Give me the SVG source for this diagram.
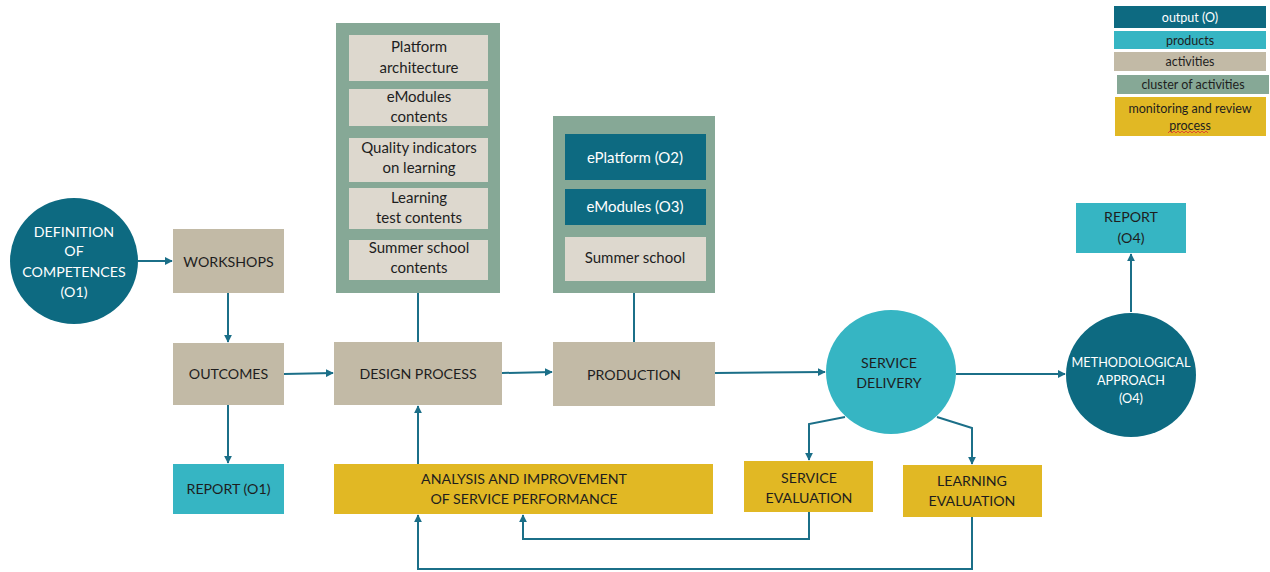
<svg xmlns="http://www.w3.org/2000/svg" width="1270" height="572" viewBox="0 0 1270 572">
<defs>
<marker id="ah" viewBox="0 0 10 10" refX="9" refY="5" markerWidth="4" markerHeight="4" orient="auto" markerUnits="strokeWidth">
<path d="M0,0 L10,5 L0,10 z" fill="#1b6f88"/>
</marker>
<style>
.t{font-family:Lato,"Liberation Sans",sans-serif;text-anchor:middle;fill:#1e1e1e}
.w{fill:#ffffff}
.cap{font-size:14.2px}
.sm{font-size:15px}
.lg{font-size:12.5px}
.out{fill:#0d6a81}
.prod{fill:#36b5c3}
.act{fill:#c2baa6}
.clu{fill:#86a896}
.inn{fill:#ddd8ce}
.mon{fill:#e1b824}
.c{fill:none;stroke:#1b6f88;stroke-width:2}
.ca{fill:none;stroke:#1b6f88;stroke-width:2;marker-end:url(#ah)}
</style>
</defs>
<rect width="1270" height="572" fill="#ffffff"/>

<g id="connectors">
<path class="ca" d="M138,261 H172"/>
<path class="ca" d="M228,293 V342"/>
<path class="ca" d="M228,405 V463"/>
<path class="ca" d="M284,374 L333,373"/>
<path class="ca" d="M502,373 L552,372"/>
<path class="ca" d="M715,373 L825,372"/>
<path class="ca" d="M956,374 L1065,374"/>
<path class="ca" d="M1131,312 V254"/>
<path class="c" d="M418,293 V342"/>
<path class="c" d="M634,293 V342"/>
<path class="ca" d="M418,464 V406"/>
<path class="ca" d="M845,417 L809,424 V460"/>
<path class="ca" d="M937,417 L972,428 V464"/>
<path class="ca" d="M809,512 V539 H523 V515"/>
<path class="ca" d="M972,517 V569 H418 V515"/>
</g>

<g id="definition">
<ellipse class="out" cx="74" cy="261" rx="64" ry="63"/>
<text class="t w cap" x="74" y="237">DEFINITION</text>
<text class="t w cap" x="74" y="256">OF</text>
<text class="t w cap" x="74" y="277">COMPETENCES</text>
<text class="t w cap" x="74" y="297">(O1)</text>
</g>

<g id="workshops">
<rect class="act" x="173" y="229" width="111" height="64"/>
<text class="t cap" x="228.5" y="267">WORKSHOPS</text>
</g>

<g id="outcomes">
<rect class="act" x="173" y="343" width="111" height="62"/>
<text class="t cap" x="228.5" y="379">OUTCOMES</text>
</g>

<g id="report-o1">
<rect class="prod" x="173" y="464" width="111" height="50"/>
<text class="t cap" x="228.5" y="494">REPORT (O1)</text>
</g>

<g id="design-cluster">
<rect class="clu" x="336" y="23" width="164" height="270"/>
<rect class="inn" x="349" y="35" width="139" height="46"/>
<text class="t sm" x="419" y="52">Platform</text>
<text class="t sm" x="419" y="73">architecture</text>
<rect class="inn" x="349" y="89" width="139" height="37"/>
<text class="t sm" x="419" y="102">eModules</text>
<text class="t sm" x="419" y="122">contents</text>
<rect class="inn" x="349" y="138" width="139" height="44"/>
<text class="t sm" x="419" y="153">Quality indicators</text>
<text class="t sm" x="419" y="173">on learning</text>
<rect class="inn" x="349" y="188" width="139" height="41"/>
<text class="t sm" x="419" y="203">Learning</text>
<text class="t sm" x="419" y="223">test contents</text>
<rect class="inn" x="349" y="240" width="139" height="40"/>
<text class="t sm" x="419" y="253">Summer school</text>
<text class="t sm" x="419" y="273">contents</text>
</g>

<g id="production-cluster">
<rect class="clu" x="553" y="116" width="162" height="177"/>
<rect class="out" x="565" y="134" width="141" height="46"/>
<text class="t w sm" x="635" y="163">ePlatform (O2)</text>
<rect class="out" x="565" y="189" width="141" height="36"/>
<text class="t w sm" x="635" y="212">eModules (O3)</text>
<rect class="inn" x="565" y="237" width="141" height="44"/>
<text class="t sm" x="635" y="263">Summer school</text>
</g>

<g id="design-process">
<rect class="act" x="334" y="342" width="168" height="63"/>
<text class="t cap" x="418" y="379">DESIGN PROCESS</text>
</g>

<g id="production">
<rect class="act" x="553" y="342" width="162" height="64"/>
<text class="t cap" x="634" y="380">PRODUCTION</text>
</g>

<g id="analysis">
<rect class="mon" x="334" y="464" width="379" height="50"/>
<text class="t cap" x="524" y="484">ANALYSIS AND IMPROVEMENT</text>
<text class="t cap" x="524" y="504">OF SERVICE PERFORMANCE</text>
</g>

<g id="service-delivery">
<ellipse class="prod" cx="891" cy="372" rx="65" ry="62"/>
<text class="t cap" x="889" y="368">SERVICE</text>
<text class="t cap" x="889" y="388">DELIVERY</text>
</g>

<g id="service-evaluation">
<rect class="mon" x="744" y="461" width="129" height="51"/>
<text class="t cap" x="809" y="483">SERVICE</text>
<text class="t cap" x="809" y="503">EVALUATION</text>
</g>

<g id="learning-evaluation">
<rect class="mon" x="903" y="465" width="139" height="52"/>
<text class="t cap" x="972" y="486">LEARNING</text>
<text class="t cap" x="972" y="506">EVALUATION</text>
</g>

<g id="methodological">
<ellipse class="out" cx="1131" cy="375" rx="65" ry="62"/>
<text class="t w" style="font-size:12.7px" x="1131" y="367">METHODOLOGICAL</text>
<text class="t w" style="font-size:12.7px" x="1131" y="385">APPROACH</text>
<text class="t w" style="font-size:12.7px" x="1131" y="403">(O4)</text>
</g>

<g id="report-o4">
<rect class="prod" x="1076" y="203" width="110" height="50"/>
<text class="t cap" x="1131" y="222">REPORT</text>
<text class="t cap" x="1131" y="243">(O4)</text>
</g>

<g id="legend">
<rect class="out" x="1114" y="6" width="152" height="22"/>
<text class="t w lg" x="1190" y="22">output (O)</text>
<rect class="prod" x="1114" y="31" width="152" height="18"/>
<text class="t lg" x="1190" y="45">products</text>
<rect class="act" x="1114" y="52" width="152" height="19"/>
<text class="t lg" x="1190" y="66">activities</text>
<rect class="clu" x="1117" y="75" width="152" height="19"/>
<text class="t lg" x="1193" y="89">cluster of activities</text>
<rect class="mon" x="1115" y="97" width="151" height="39"/>
<text class="t lg" x="1190" y="113">monitoring and review</text>
<text class="t lg" x="1190" y="130">process</text>
<path d="M1168,133 l2,-2 l2,2 l2,-2 l2,2 l2,-2 l2,2 l2,-2 l2,2 l2,-2 l2,2 l2,-2 l2,2 l2,-2 l2,2 l2,-2 l2,2 l2,-2 l2,2 l2,-2 l2,2" fill="none" stroke="#e03030" stroke-width="0.8"/>
</g>
</svg>
